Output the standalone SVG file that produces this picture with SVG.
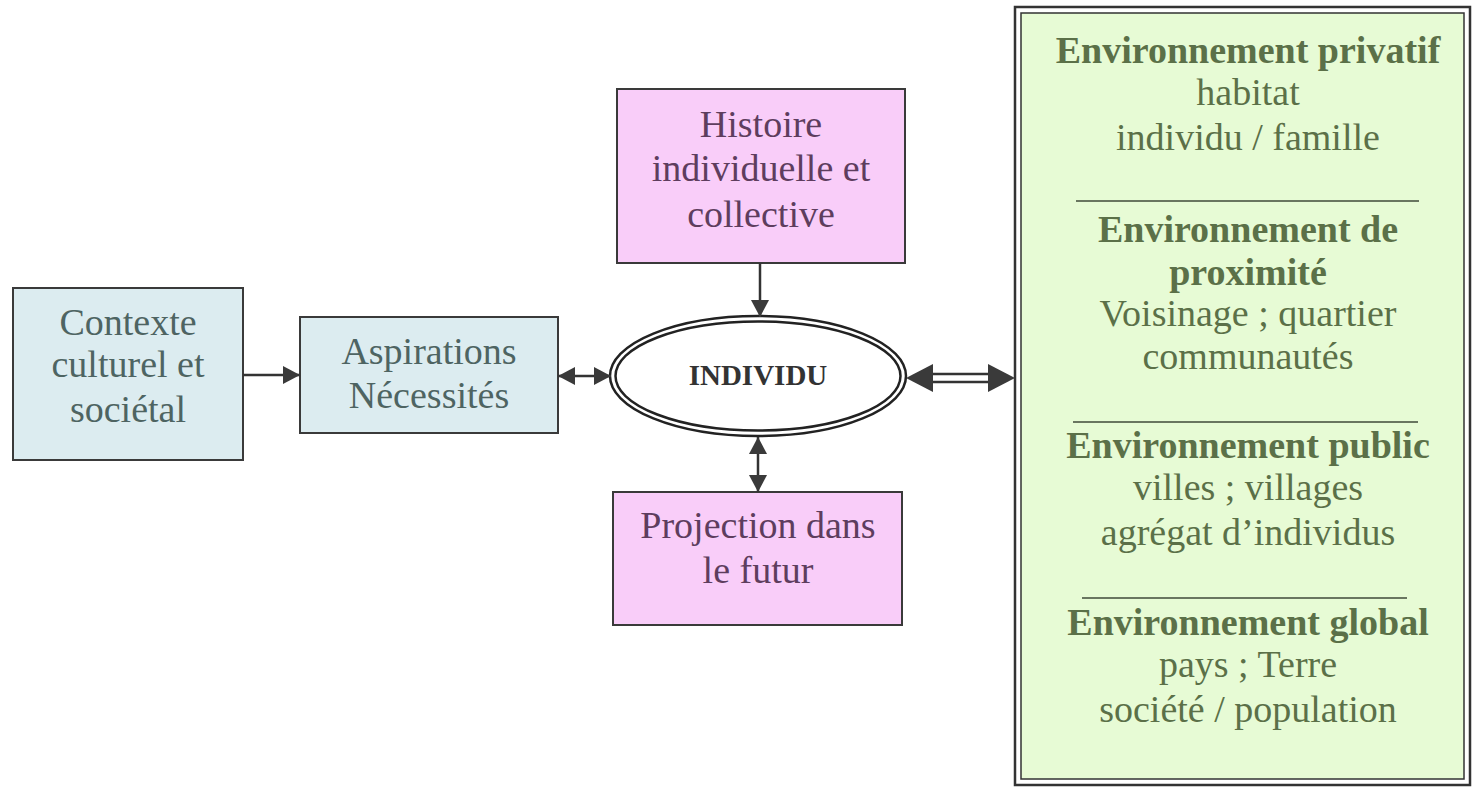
<svg xmlns="http://www.w3.org/2000/svg" width="1473" height="789" viewBox="0 0 1473 789">
<style>
text{font-family:"Liberation Serif","Times New Roman",serif;font-size:38px;text-anchor:middle}
.blue rect{fill:#dcecf0;stroke:#3a3a3a;stroke-width:2}
.blue text{fill:#4e6462}
.pink rect{fill:#f9cdf9;stroke:#3a3a3a;stroke-width:2}
.pink text{fill:#5e3d5e}
.green text{fill:#5b7048}
.green .b{font-weight:bold}
.sep{stroke:#3f4a38;stroke-width:1.5}
.conn line{stroke:#333;stroke-width:2.5;fill:none}
.head{fill:#3a3a3a}
</style>
<defs>
<marker id="ah" markerUnits="userSpaceOnUse" markerWidth="18" markerHeight="18" refX="17" refY="9" orient="auto-start-reverse" viewBox="0 0 18 18">
<path d="M0,0 L17,9 L0,18 Z" class="head"/>
</marker>
</defs>
<rect width="1473" height="789" fill="#ffffff"/>

<g id="contexte" class="blue">
<rect x="13" y="288" width="230" height="172"/>
<text x="128" y="335">Contexte</text>
<text x="128" y="377">culturel et</text>
<text x="128" y="422">sociétal</text>
</g>

<g id="aspirations" class="blue">
<rect x="300" y="317" width="258" height="116"/>
<text x="429" y="364">Aspirations</text>
<text x="429" y="408">Nécessités</text>
</g>

<g id="histoire" class="pink">
<rect x="617" y="89" width="288" height="174"/>
<text x="761" y="137">Histoire</text>
<text x="761" y="181">individuelle et</text>
<text x="761" y="227">collective</text>
</g>

<g id="individu">
<ellipse cx="758" cy="376" rx="148" ry="60" fill="#ffffff" stroke="#222" stroke-width="2.5"/>
<ellipse cx="758" cy="376" rx="142.5" ry="54.5" fill="none" stroke="#222" stroke-width="2.5"/>
<text x="758" y="385" style="font-size:29px;font-weight:bold;fill:#333">INDIVIDU</text>
</g>

<g id="projection" class="pink">
<rect x="613" y="492" width="289" height="133"/>
<text x="758" y="538">Projection dans</text>
<text x="758" y="583">le futur</text>
</g>

<g id="environnement" class="green">
<rect x="1015" y="7" width="455" height="778" fill="#ffffff" stroke="#333" stroke-width="2.5"/>
<rect x="1021" y="13" width="443" height="766" fill="#e7fbd5" stroke="#333" stroke-width="1.5"/>
<text x="1248" y="63" class="b">Environnement privatif</text>
<text x="1248" y="105">habitat</text>
<text x="1248" y="150">individu / famille</text>
<line x1="1076" y1="201" x2="1419" y2="201" class="sep"/>
<text x="1248" y="242" class="b">Environnement de</text>
<text x="1248" y="285" class="b">proximité</text>
<text x="1248" y="326">Voisinage ; quartier</text>
<text x="1248" y="369">communautés</text>
<line x1="1073" y1="422" x2="1418" y2="422" class="sep"/>
<text x="1248" y="458" class="b">Environnement public</text>
<text x="1248" y="500">villes ; villages</text>
<text x="1248" y="545">agrégat d’individus</text>
<line x1="1082" y1="598" x2="1407" y2="598" class="sep"/>
<text x="1248" y="635" class="b">Environnement global</text>
<text x="1248" y="677">pays ; Terre</text>
<text x="1248" y="722">société / population</text>
</g>

<g id="connectors" class="conn">
<line x1="243" y1="375" x2="300" y2="375" marker-end="url(#ah)"/>
<line x1="558" y1="376" x2="611" y2="376" marker-start="url(#ah)" marker-end="url(#ah)"/>
<line x1="760" y1="263" x2="760" y2="317" marker-end="url(#ah)"/>
<line x1="758" y1="437" x2="758" y2="492" marker-start="url(#ah)" marker-end="url(#ah)"/>
<line x1="930" y1="374" x2="991" y2="374"/>
<line x1="930" y1="382" x2="991" y2="382"/>
<polygon class="head" points="906,378 933,364 933,392"/>
<polygon class="head" points="1015,378 988,364 988,392"/>
</g>
</svg>
